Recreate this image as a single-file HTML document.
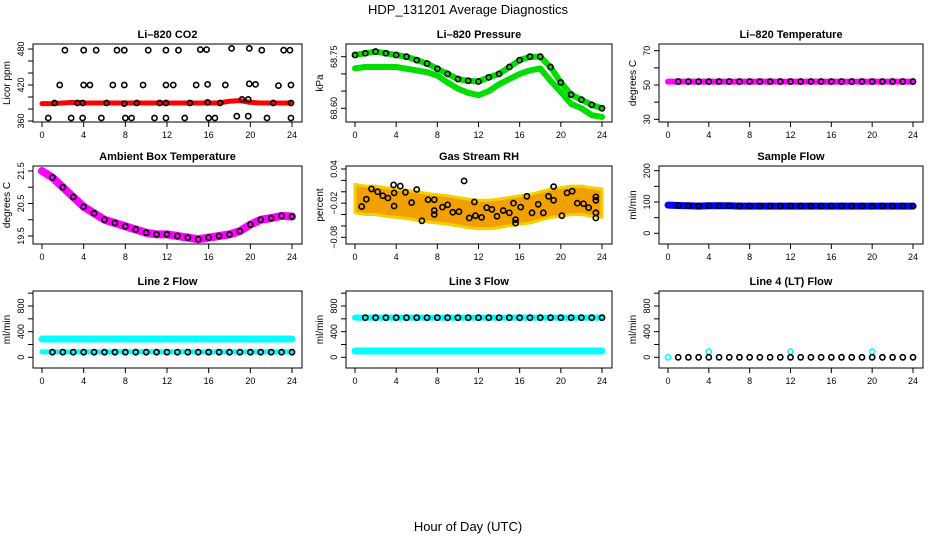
<!DOCTYPE html>
<html><head><meta charset="utf-8"><style>
body{margin:0;background:#fff;}
svg{display:block;font-family:"Liberation Sans",sans-serif;}
</style></head><body>
<svg id="c" width="936" height="540" viewBox="0 0 936 540">
<text x="468" y="14" text-anchor="middle" font-size="13">HDP_131201  Average Diagnostics</text>
<text x="468" y="531" text-anchor="middle" font-size="13">Hour of Day (UTC)</text>
</svg>
<script>
const hours=[0,1,2,3,4,5,6,7,8,9,10,11,12,13,14,15,16,17,18,19,20,21,22,23,24];
const xTickLabels=[0,4,8,12,16,20,24];
// CO2
const co2Band=[389,389,390,391,390,390,390,390,390,390,390,390,390,390,390,390,390,390,393,394,391,390,390,390,390];
const co2CircleHours=[2.2,4.0,5.2,7.2,7.9,10.2,11.9,13.1,15.2,15.8,18.2,19.9,21.1,23.2,23.8,1.7,4.0,4.6,6.8,7.9,9.7,11.9,12.6,14.8,15.9,17.6,19.9,20.5,22.7,23.9,1.2,3.4,3.9,6.2,7.9,9.1,11.3,11.9,14.2,15.9,17.1,19.2,19.8,22.2,23.9,0.6,2.8,3.9,5.7,8.0,8.6,10.8,11.9,13.7,16.0,16.6,18.7,19.8,21.6,23.9];
const co2CircleVals=[478,478,478,478,478,478,478,478,479,479,481,481,478,478,478,420,420,420,420,420,420,420,420,420,421,420,422,421,419,420,390,390,390,390,389,390,390,390,390,391,390,396,396,390,390,365,365,365,365,365,365,365,365,365,365,365,368,368,365,365];
// Pressure
const presUpper=[68.755,68.76,68.765,68.76,68.755,68.75,68.74,68.73,68.715,68.70,68.685,68.68,68.678,68.69,68.70,68.72,68.74,68.75,68.75,68.72,68.675,68.64,68.625,68.61,68.60];
const presLower=[68.716,68.72,68.72,68.72,68.72,68.715,68.71,68.705,68.695,68.675,68.657,68.645,68.638,68.65,68.67,68.685,68.70,68.71,68.716,68.68,68.647,68.613,68.60,68.58,68.575];
// Li-820 temperature
const tempVals=[52,52,52,52,52,52,52,52,52,52,52,52,52,52,52,52,52,52,52,52,52,52,52,52,52];
// Ambient box temperature
const ambVals=[21.5,21.3,21.0,20.7,20.4,20.2,20.0,19.9,19.8,19.7,19.6,19.55,19.55,19.5,19.45,19.4,19.45,19.5,19.55,19.65,19.85,20.0,20.05,20.12,20.1];
// Gas stream RH
const rhUpper=[0.013,0.01,0.01,0.007,0.005,0.003,0,-0.003,-0.005,-0.007,-0.01,-0.013,-0.015,-0.015,-0.013,-0.01,-0.007,-0.005,0,0.005,0.007,0.01,0.01,0.007,0.005];
const rhLower=[-0.037,-0.04,-0.04,-0.043,-0.045,-0.047,-0.05,-0.053,-0.055,-0.057,-0.06,-0.063,-0.065,-0.065,-0.063,-0.06,-0.057,-0.055,-0.05,-0.045,-0.043,-0.04,-0.04,-0.043,-0.045];
const rhCircleHours=[0.65,1.1,1.6,2.2,2.7,3.2,3.75,3.8,3.8,4.4,4.9,5.5,6.0,6.5,7.1,7.7,7.7,7.7,8.5,9.0,9.5,10.1,10.6,11.1,11.6,11.7,12.3,12.8,13.3,13.8,14.4,15.0,15.4,15.6,15.6,16.1,16.7,17.2,17.8,18.3,18.8,19.3,19.3,20.1,20.6,21.1,21.6,22.2,22.7,23.4,23.4,23.4,23.4];
const rhCircleVals=[-0.026,-0.013,0.005,0,-0.007,-0.011,0.012,-0.002,-0.025,0.01,-0.001,-0.019,0.004,-0.051,-0.014,-0.014,-0.033,-0.04,-0.027,-0.023,-0.036,-0.035,0.019,-0.046,-0.018,-0.042,-0.045,-0.028,-0.031,-0.043,-0.033,-0.037,-0.02,-0.049,-0.055,-0.027,-0.008,-0.037,-0.022,-0.037,-0.008,-0.015,0.009,-0.042,-0.002,0.001,-0.02,-0.021,-0.028,-0.009,-0.015,-0.037,-0.046];
// Flows
const sampleFlow=[90,89,88,87,88,88,88,87,87,87,87,87,87,87,87,87,87,87,87,87,87,87,87,87,87];
const line2Upper=[285,285,285,285,285,285,285,285,285,285,285,285,285,285,285,285,285,285,285,285,285,285,285,285,285];
const line2Lower=[85,85,85,85,85,85,85,85,85,85,85,85,85,85,85,85,85,85,85,85,85,85,85,85,85];
const line2Circles=[80,80,80,80,80,80,80,80,80,80,80,80,80,80,80,80,80,80,80,80,80,80,80,80,80];
const line3Upper=[618,618,618,618,618,618,618,618,618,618,618,618,618,618,618,618,618,618,618,618,618,618,618,618,618];
const line3Lower=[98,98,98,98,98,98,98,98,98,98,98,98,98,98,98,98,98,98,98,98,98,98,98,98,98];
const line4Vals=[0,0,0,0,0,0,0,0,0,0,0,0,0,0,0,0,0,0,0,0,0,0,0,0,0];
const line4SpikeHours=[4,12,20];
const line4SpikeVals=[88,88,88];

const NS='http://www.w3.org/2000/svg';
const svg=document.getElementById('c');
function mk(tag,attrs,parent){const e=document.createElementNS(NS,tag);for(const k in attrs)e.setAttribute(k,attrs[k]);(parent||svg).appendChild(e);return e;}

function panel(cfg){
  const g=mk('g',{});
  
  
  const [x0,y0,x1,y1]=cfg.box;
  const xs=h=>x0+9+(x1-x0-19)*h/24;
  const ys=v=>cfg.ym[1]+(v-cfg.ym[0])*(cfg.ym[3]-cfg.ym[1])/(cfg.ym[2]-cfg.ym[0]);
  const t=mk('text',{x:(x0+x1)/2,y:y0-6,'text-anchor':'middle','font-size':11,'font-weight':'bold'},g);
  t.textContent=cfg.title;
  
  
  const r=mk('rect',{x:x0,y:y0,width:x1-x0,height:y1-y0,fill:'none',stroke:'#000','stroke-width':1},g);
  
  
  xTickLabels.forEach(h=>{
    const X=xs(h);
    mk('line',{x1:X,y1:y1,x2:X,y2:y1+5,stroke:'#000'},g);
    const l=mk('text',{x:X,y:y1+16,'text-anchor':'middle','font-size':9},g);
    l.textContent=h;
    
    
  });
  cfg.yticks.forEach(v=>{
    const Y=ys(v);
    mk('line',{x1:x0,y1:Y,x2:x0-5,y2:Y,stroke:'#000'},g);
  });
  cfg.ylabels.forEach(v=>{
    const Y=ys(v);
    const l=mk('text',{x:0,y:0,'text-anchor':'middle','font-size':9,transform:`translate(${x0-9},${Y}) rotate(-90)`},g);
    l.textContent=cfg.fmt?cfg.fmt(v):v;
    
    
  });
  const yl=mk('text',{x:0,y:0,'text-anchor':'middle','font-size':10,transform:`translate(${x0-23},${(y0+y1)/2}) rotate(-90)`},g);
  yl.textContent=cfg.ylab;
  
  
  const clip='clip'+cfg.name;
  const cp=mk('clipPath',{id:clip},g);mk('rect',{x:x0,y:y0,width:x1-x0,height:y1-y0},cp);
  const dg=mk('g',{'clip-path':`url(#${clip})`},g);
  return {xs,ys,g:dg};
}
function band(p,hs,vals,color,w,name){
  const pts=hs.map((h,i)=>p.xs(h)+','+p.ys(vals[i])).join(' ');
  const pl=mk('polyline',{points:pts,fill:'none',stroke:color,'stroke-width':w,'stroke-linejoin':'round','stroke-linecap':'round'},p.g);
  
  
}
function circles(p,hs,vals,color,name,start){
  hs.forEach((h,i)=>{
    if(start!==undefined&&h<start)return;
    const c=mk('circle',{cx:p.xs(h),cy:p.ys(vals[i]),r:2.6,fill:'none',stroke:color,'stroke-width':1.6},p.g);
    
    
  });
}
function polyband(p,up,lo,name){
  const pts=hours.map((h,i)=>p.xs(h)+','+p.ys(up[i])).concat(hours.slice().reverse().map((h,j)=>p.xs(h)+','+p.ys(lo[hours.length-1-j]))).join(' ');
  const pg=mk('polygon',{points:pts,fill:'#f2a000',stroke:'#f5d000','stroke-width':3,'stroke-linejoin':'round'},p.g);
  
  
}
const rng=(a,b,s)=>{const o=[];for(let v=a;v<=b+1e-9;v+=s)o.push(+v.toFixed(4));return o;};
const flowTicks=rng(0,1000,200), flowLabels=[0,400,800];

// Row 1
let p=panel({name:'co2-panel',title:'Li–820 CO2',ylab:'Licor ppm',box:[33,44,302,122],ym:[480,49,360,121],yticks:rng(360,480,20),ylabels:[360,420,480]});
band(p,hours,co2Band,'#ff0000',5,'co2-band');
circles(p,co2CircleHours,co2CircleVals,'#000','co2-point');

p=panel({name:'pressure-panel',title:'Li–820 Pressure',ylab:'kPa',box:[346,44,612,122],ym:[68.75,56.7,68.60,108.3],yticks:rng(68.60,68.75,0.05),ylabels:[68.60,68.75],fmt:v=>v.toFixed(2)});
band(p,hours,presUpper,'#00dd00',6,'pressure-band-upper');
band(p,hours,presLower,'#00dd00',6,'pressure-band-lower');
circles(p,hours,presUpper,'#000','pressure-point');

p=panel({name:'li820-temp-panel',title:'Li–820 Temperature',ylab:'degrees C',box:[659,44,923,122],ym:[70,50.7,30,119.3],yticks:rng(30,70,10),ylabels:[30,50,70]});
band(p,hours,tempVals,'#ff00ff',6,'temp-band');
circles(p,hours,tempVals,'#000','temp-point',0.5);

// Row 2
p=panel({name:'ambient-temp-panel',title:'Ambient Box Temperature',ylab:'degrees C',box:[33,166,302,244],ym:[21.5,171,19.5,236],yticks:rng(19.5,21.5,0.5),ylabels:[19.5,20.5,21.5],fmt:v=>v.toFixed(1)});
band(p,hours,ambVals,'#ff00ff',8,'ambient-band');
circles(p,hours,ambVals,'#000','ambient-point',0.5);

p=panel({name:'rh-panel',title:'Gas Stream RH',ylab:'percent',box:[346,166,612,244],ym:[0.04,169,-0.08,237.3],yticks:rng(-0.08,0.04,0.02),ylabels:[-0.08,-0.02,0.04],fmt:v=>v.toFixed(2).replace('-','−')});
polyband(p,rhUpper,rhLower,'rh-cloud');
circles(p,rhCircleHours,rhCircleVals,'#000','rh-point');

p=panel({name:'sample-flow-panel',title:'Sample Flow',ylab:'ml/min',box:[659,166,923,244],ym:[200,170.7,0,233.3],yticks:rng(0,200,50),ylabels:[0,100,200]});
band(p,hours,sampleFlow,'#0000ff',7,'sample-flow-band');
circles(p,hours,sampleFlow,'#000','sample-flow-point',0.5);

// Row 3
p=panel({name:'line2-flow-panel',title:'Line 2 Flow',ylab:'ml/min',box:[33,291,302,368],ym:[800,306,0,357.3],yticks:flowTicks,ylabels:flowLabels});
band(p,hours,line2Upper,'#00ffff',7,'line2-band-upper');
band(p,hours,line2Lower,'#00ffff',5,'line2-band-lower');
circles(p,hours,line2Circles,'#000','line2-point',0.5);

p=panel({name:'line3-flow-panel',title:'Line 3 Flow',ylab:'ml/min',box:[346,291,612,368],ym:[800,306,0,357.3],yticks:flowTicks,ylabels:flowLabels});
band(p,hours,line3Upper,'#00ffff',6,'line3-band-upper');
band(p,hours,line3Lower,'#00ffff',7,'line3-band-lower');
circles(p,hours,line3Upper,'#000','line3-point',0.5);

p=panel({name:'line4-flow-panel',title:'Line 4 (LT) Flow',ylab:'ml/min',box:[659,291,923,368],ym:[800,306,0,357.3],yticks:flowTicks,ylabels:flowLabels});
circles(p,[0],[line4Vals[0]],'#00ffff','line4-start-point');
circles(p,line4SpikeHours,line4SpikeVals,'#00ffff','line4-spike-point');
circles(p,hours,line4Vals,'#000','line4-point',0.5);
</script>
</body></html>
